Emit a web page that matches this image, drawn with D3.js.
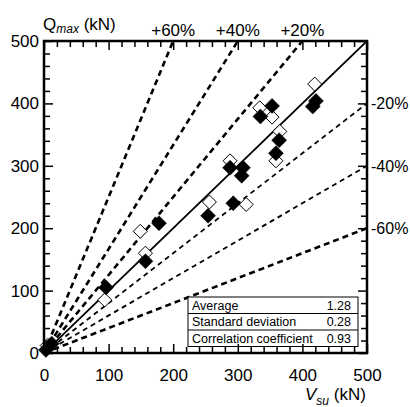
<!DOCTYPE html>
<html><head><meta charset="utf-8">
<script src="https://cdn.jsdelivr.net/npm/d3@7"></script>
<style>
body{margin:0;background:#fff;}
text{font-family:"Liberation Sans",Arial,Helvetica,sans-serif;fill:#000;}
</style></head>
<body><svg id="c" width="410" height="407"></svg>
<script>
// ---- data ----
const openV = [5, 94, 149, 157, 256, 288, 313, 334, 353, 359, 365, 419];
const openQ = [12, 85, 195, 160, 242, 308, 238, 393, 378, 308, 355, 431];
const filledV = [3, 12, 96, 157, 178, 254, 288, 293, 308, 306, 335, 353, 359, 364, 416, 421];
const filledQ = [5, 15, 105, 147, 208, 220, 297, 240, 297, 284, 379, 396, 320, 341, 395, 404];
const xTickLabels = [0, 100, 200, 300, 400, 500];
const yTickLabels = [0, 100, 200, 300, 400, 500];
const deviations = [60, 40, 20, -20, -40, -60];
const deviationLabels = ["+60%", "+40%", "+20%", "-20%", "-40%", "-60%"];
const statLabels = ["Average", "Standard deviation", "Correlation coefficient"];
const statValues = ["1.28", "0.28", "0.93"];

// ---- layout ----
const svg = d3.select("#c");
const L = 44, R = 367, T = 41, B = 353;
const x = d3.scaleLinear().domain([0, 500]).range([L, R]);
const y = d3.scaleLinear().domain([0, 500]).range([B, T]);

svg.append("clipPath").attr("id","clip").append("rect")
  .attr("x", L).attr("y", T).attr("width", R-L).attr("height", B-T);

const plot = svg.append("g").attr("clip-path","url(#clip)");

// guide lines
deviations.forEach((d, i) => {
  const k = d > 0 ? 1 / (1 - d/100) : 1 + d/100;
  const vEnd = Math.min(500, 500 / k);
  const thin = (d === -20 || d === -40);
  plot.append("line")
    .attr("x1", x(0)).attr("y1", y(0))
    .attr("x2", x(vEnd)).attr("y2", y(vEnd * k))
    .attr("stroke", "#000")
    .attr("stroke-width", thin ? 1.8 : 2.6)
    .attr("stroke-dasharray", thin ? "5,4" : "6,4");
  if (d > 0) {
    svg.append("text").attr("x", x(vEnd)).attr("y", 36)
      .attr("text-anchor","middle").attr("font-size", 17).text(deviationLabels[i]);
  } else {
    svg.append("text").attr("x", R + 4).attr("y", y(vEnd * k) + 6)
      .attr("font-size", 16).text(deviationLabels[i]);
  }
});

// 1:1 line
plot.append("line")
  .attr("x1", x(0)).attr("y1", y(0)).attr("x2", x(500)).attr("y2", y(500))
  .attr("stroke", "#000").attr("stroke-width", 1.8);

// table
const tx = 188, ty = 297, tw = 170, rh = 16.5;
const tbl = svg.append("g");
tbl.append("rect").attr("x", tx).attr("y", ty).attr("width", tw).attr("height", rh*3)
  .attr("fill","#fff").attr("stroke","#000").attr("stroke-width",1);
statLabels.forEach((s, i) => {
  if (i > 0) tbl.append("line").attr("x1", tx).attr("x2", tx+tw)
    .attr("y1", ty + rh*i).attr("y2", ty + rh*i).attr("stroke","#000").attr("stroke-width",1);
  tbl.append("text").attr("x", tx+4).attr("y", ty + rh*i + 12.5).attr("font-size", 12.5).text(s);
  tbl.append("text").attr("x", tx+tw-7).attr("y", ty + rh*i + 12.5).attr("font-size", 12.5)
    .attr("text-anchor","end").text(statValues[i]);
});

// markers
const diamond = r => `M0,${-r}L${r},0L0,${r}L${-r},0Z`;
svg.append("g").selectAll("path").data(openV).join("path")
  .attr("d", diamond(7))
  .attr("transform", (v, i) => `translate(${x(v)},${y(openQ[i])})`)
  .attr("fill","#fff").attr("stroke","#000").attr("stroke-width",1);
svg.append("g").selectAll("path").data(filledV).join("path")
  .attr("d", diamond(7.5))
  .attr("transform", (v, i) => `translate(${x(v)},${y(filledQ[i])})`)
  .attr("fill","#000").attr("stroke","#000").attr("stroke-width",0.5);

// axes ticks
const minor = d3.range(0, 501, 20);
const tickLen = v => (v % 100 === 0 ? 9 : 6);
const fmt = v => (xTickLabels.includes(v) ? v : "");

const gB = svg.append("g").attr("transform", `translate(0,${B})`)
  .call(d3.axisBottom(x).tickValues(minor).tickSize(0).tickPadding(16).tickFormat(fmt));
const gT = svg.append("g").attr("transform", `translate(0,${T})`)
  .call(d3.axisTop(x).tickValues(minor).tickSize(0).tickFormat(""));
const gL = svg.append("g").attr("transform", `translate(${L},0)`)
  .call(d3.axisLeft(y).tickValues(minor).tickSize(0).tickPadding(5)
  .tickFormat(v => (yTickLabels.includes(v) ? v : "")));
const gR = svg.append("g").attr("transform", `translate(${R},0)`)
  .call(d3.axisRight(y).tickValues(minor).tickSize(0).tickFormat(""));

[gB, gT, gL, gR].forEach(g => {
  g.select(".domain").remove();
  g.selectAll("text").attr("font-size", 17).style("font-family", '"Liberation Sans",Arial,sans-serif');
});
gB.selectAll(".tick line").attr("y2", v => -tickLen(v)).attr("stroke","#000").attr("stroke-width",1.5);
gT.selectAll(".tick line").attr("y2", v => tickLen(v)).attr("stroke","#000").attr("stroke-width",1.5);
gL.selectAll(".tick line").attr("x2", v => tickLen(v)).attr("stroke","#000").attr("stroke-width",1.5);
gR.selectAll(".tick line").attr("x2", v => -tickLen(v)).attr("stroke","#000").attr("stroke-width",1.5);
gB.selectAll("text").attr("dy", "0.71em");

// frame
svg.append("rect").attr("x", L).attr("y", T).attr("width", R-L).attr("height", B-T)
  .attr("fill","none").attr("stroke","#000").attr("stroke-width",2.5);

// axis titles
const qt = svg.append("text").attr("x", 43).attr("y", 30).attr("font-size", 17);
qt.append("tspan").text("Q");
qt.append("tspan").attr("font-size", 12).attr("font-style","italic").attr("dy", 3).text("max");
qt.append("tspan").attr("dy", -3).text(" (kN)");

const vt = svg.append("text").attr("x", 305).attr("y", 400).attr("font-size", 17);
vt.append("tspan").attr("font-style","italic").text("V");
vt.append("tspan").attr("font-size", 12).attr("font-style","italic").attr("dy", 5).text("su");
vt.append("tspan").attr("dy", -5).text(" (kN)");
</script></body></html>
